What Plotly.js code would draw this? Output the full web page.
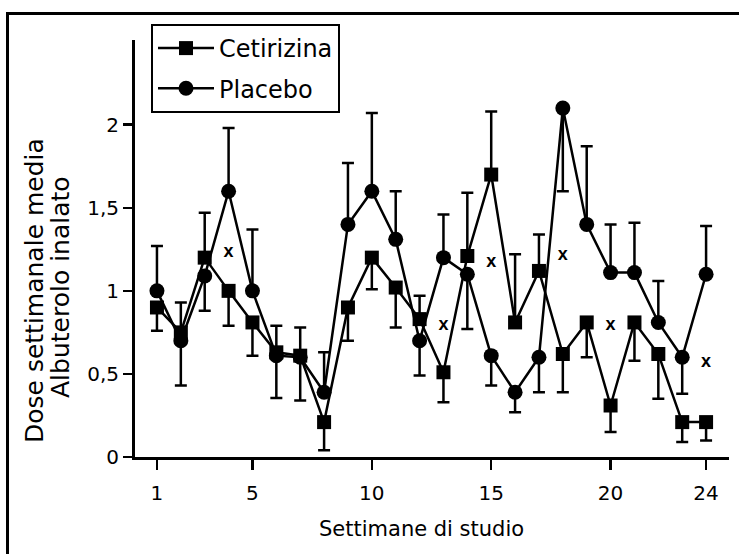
<!DOCTYPE html>
<html><head><meta charset="utf-8">
<script src="https://cdn.plot.ly/plotly-3.0.1.min.js"></script>
<style>html,body{margin:0;padding:0;background:#fff}</style>
</head><body><div id="chart" style="width:739px;height:554px"></div>
<script>
const weeks = [1,2,3,4,5,6,7,8,9,10,11,12,13,14,15,16,17,18,19,20,21,22,23,24];
const cetirizina = [0.90,0.75,1.20,1.00,0.81,0.63,0.61,0.21,0.90,1.20,1.02,0.83,0.51,1.21,1.70,0.81,1.12,0.62,0.81,0.31,0.81,0.62,0.21,0.21];
const placebo    = [1.00,0.70,1.09,1.60,1.00,0.61,0.60,0.39,1.40,1.60,1.31,0.70,1.20,1.10,0.61,0.39,0.60,2.10,1.40,1.11,1.11,0.81,0.60,1.10];
// error bar lengths (0 = not shown on that side)
const cetPlus  = [0,0.18,0.27,0,0,0.16,0.17,0,0,0,0,0.14,0,0.38,0.38,0.41,0.22,0,0,0,0,0,0,0];
const cetMinus = [0.14,0,0,0.21,0.20,0,0,0.17,0.20,0.19,0.24,0,0.18,0,0,0,0,0.23,0.21,0.16,0.23,0.27,0.12,0.11];
const plaPlus  = [0.27,0,0,0.38,0.37,0,0,0.24,0.37,0.47,0.29,0,0.26,0,0,0,0,0,0.47,0.29,0.30,0.25,0,0.29];
const plaMinus = [0,0.27,0.21,0,0,0.255,0.26,0,0,0,0,0.21,0,0.33,0.18,0.12,0.21,0.50,0,0,0,0,0.22,0];
// significance markers
const sigWeeks = [4,13,15,18,20,24];
const sigY     = [1.23,0.79,1.17,1.21,0.79,0.57];
const xTicks = [1,5,10,15,20,24];
const yTicks = [0,0.5,1,1.5,2];
const yTickLabels = ['0','0,5','1','1,5','2'];

const FONT = 'DejaVu Sans, Arial, sans-serif';
const errStyle = {color:'#000', thickness:2.5, width:6};

const traces = [
  {x:weeks, y:cetirizina, name:'Cetirizina', type:'scatter', mode:'lines+markers', legendgroup:'a',
   line:{color:'#000', width:2.5},
   marker:{symbol:'square', size:14, color:'#000'},
   error_y:Object.assign({type:'data', symmetric:false, array:cetPlus, arrayminus:cetMinus}, errStyle)},
  {x:weeks, y:placebo, name:'Placebo', type:'scatter', mode:'lines+markers', legendgroup:'b',
   line:{color:'#000', width:2.5},
   marker:{symbol:'circle', size:15, color:'#000'},
   error_y:Object.assign({type:'data', symmetric:false, array:plaPlus, arrayminus:plaMinus}, errStyle)},
  {x:sigWeeks, y:sigY, type:'scatter', mode:'text', text:sigWeeks.map(()=> 'x'),
   textposition:'middle center', showlegend:false, hoverinfo:'skip',
   textfont:{family:'Arial, Liberation Sans, sans-serif', size:18, color:'#000', weight:'bold'}}
];

const L = 135, R = 729, T = 40, B = 457;
const px2x = p => (p - L)/(R - L);
const px2y = p => (B - p)/(B - T);

const layout = {
  width:739, height:554,
  margin:{l:L, r:739-R, t:T, b:554-B, pad:0},
  paper_bgcolor:'#fff', plot_bgcolor:'#fff',
  font:{family:FONT, color:'#000', size:20},
  showlegend:true,
  legend:{x:px2x(151), y:px2y(24), xanchor:'left', yanchor:'top',
          bordercolor:'#000', borderwidth:2, bgcolor:'#fff', tracegroupgap:6,
          font:{family:FONT, size:24, color:'#000'}, itemwidth:56},
  xaxis:{range:[0.08,24.96], tickvals:xTicks, ticktext:xTicks.map(String),
         showline:true, linewidth:3, linecolor:'#000', ticks:'outside', ticklen:10,
         tickwidth:2.5, tickcolor:'#000', showgrid:false, zeroline:false,
         tickfont:{family:FONT, size:20}, ticklabelstandoff:6, fixedrange:true},
  yaxis:{range:[0,2.51], tickvals:yTicks, ticktext:yTickLabels,
         showline:true, linewidth:3, linecolor:'#000', ticks:'outside', ticklen:9,
         tickwidth:2.5, tickcolor:'#000', showgrid:false, zeroline:false,
         tickfont:{family:FONT, size:20}, fixedrange:true},
  annotations:[
    {text:'Settimane di studio', xref:'paper', yref:'paper', x:px2x(421), y:px2y(529),
     xanchor:'center', yanchor:'middle', showarrow:false, font:{family:FONT, size:21}},
    {text:'Dose settimanale media', xref:'paper', yref:'paper', x:px2x(34), y:px2y(291),
     xanchor:'center', yanchor:'middle', showarrow:false, textangle:-90, font:{family:FONT, size:25}},
    {text:'Albuterolo inalato', xref:'paper', yref:'paper', x:px2x(60), y:px2y(287),
     xanchor:'center', yanchor:'middle', showarrow:false, textangle:-90, font:{family:FONT, size:25}}
  ],
  shapes:[
    {type:'rect', xref:'paper', yref:'paper', x0:px2x(7.5), x1:px2x(800), y0:px2y(620), y1:px2y(13.5),
     line:{color:'#000', width:3}, fillcolor:'rgba(0,0,0,0)', layer:'above'}
  ]
};

Plotly.newPlot('chart', traces, layout, {displayModeBar:false, staticPlot:true});
</script></body></html>
